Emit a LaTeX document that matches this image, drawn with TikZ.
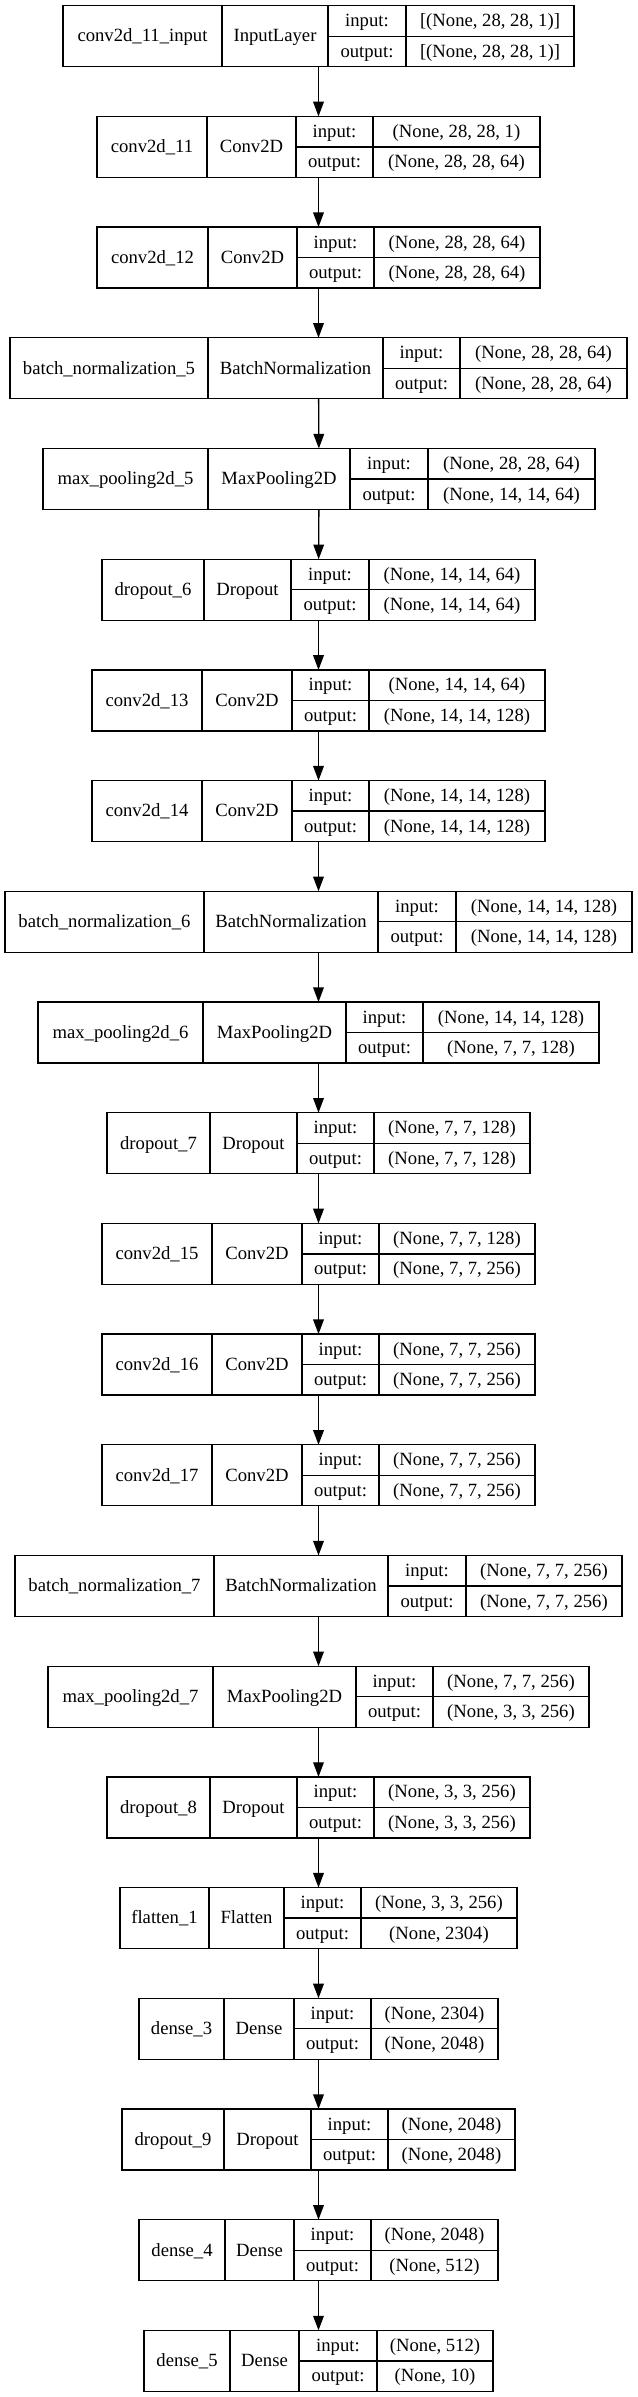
\documentclass[tikz,border=0pt]{standalone}
\usepackage{fontspec}
\setmainfont{Liberation Serif}
\usepackage{tikz}
\usetikzlibrary{arrows.meta}

\tikzset{
  layerbox/.style={draw, line width=1pt, rectangle, inner sep=0pt, outer sep=0pt,
    minimum height=45.75pt},
  lbl/.style={anchor=base, inner sep=0pt, font=\fontsize{14pt}{16pt}\selectfont},
  arr/.style={line width=1pt, -{Triangle[length=11pt, width=8pt]}}
}

\begin{document}
\begin{tikzpicture}[x=0.75pt, y=-0.75pt]
  \useasboundingbox (0,0) rectangle (637,2397);

  % Layers
  \foreach \k/\nm/\cl/\si/\so/\xa/\xb/\xc/\xd/\xe in {
    0/conv2d\_11\_input/InputLayer/{[(None, 28, 28, 1)]}/{[(None, 28, 28, 1)]}/63/222/328/406/574,
    1/conv2d\_11/Conv2D/{(None, 28, 28, 1)}/{(None, 28, 28, 64)}/97/207/296/373/540,
    2/conv2d\_12/Conv2D/{(None, 28, 28, 64)}/{(None, 28, 28, 64)}/97/208/297/374/540,
    3/batch\_normalization\_5/BatchNormalization/{(None, 28, 28, 64)}/{(None, 28, 28, 64)}/10/208/383/460/627,
    4/max\_pooling2d\_5/MaxPooling2D/{(None, 28, 28, 64)}/{(None, 14, 14, 64)}/43/208/350/428/595,
    5/dropout\_6/Dropout/{(None, 14, 14, 64)}/{(None, 14, 14, 64)}/102/204/291/369/535,
    6/conv2d\_13/Conv2D/{(None, 14, 14, 64)}/{(None, 14, 14, 128)}/92/202/292/369/545,
    7/conv2d\_14/Conv2D/{(None, 14, 14, 128)}/{(None, 14, 14, 128)}/92/202/292/369/545,
    8/batch\_normalization\_6/BatchNormalization/{(None, 14, 14, 128)}/{(None, 14, 14, 128)}/5/204/378/456/632,
    9/max\_pooling2d\_6/MaxPooling2D/{(None, 14, 14, 128)}/{(None, 7, 7, 128)}/38/203/346/423/599,
    10/dropout\_7/Dropout/{(None, 7, 7, 128)}/{(None, 7, 7, 128)}/107/210/297/374/530,
    11/conv2d\_15/Conv2D/{(None, 7, 7, 128)}/{(None, 7, 7, 256)}/102/212/302/379/535,
    12/conv2d\_16/Conv2D/{(None, 7, 7, 256)}/{(None, 7, 7, 256)}/102/212/302/379/535,
    13/conv2d\_17/Conv2D/{(None, 7, 7, 256)}/{(None, 7, 7, 256)}/102/212/302/379/535,
    14/batch\_normalization\_7/BatchNormalization/{(None, 7, 7, 256)}/{(None, 7, 7, 256)}/15/214/388/466/622,
    15/max\_pooling2d\_7/MaxPooling2D/{(None, 7, 7, 256)}/{(None, 3, 3, 256)}/48/213/356/433/589,
    16/dropout\_8/Dropout/{(None, 3, 3, 256)}/{(None, 3, 3, 256)}/107/210/297/374/530,
    17/flatten\_1/Flatten/{(None, 3, 3, 256)}/{(None, 2304)}/120/209/284/361/517,
    18/dense\_3/Dense/{(None, 2304)}/{(None, 2048)}/139/224/294/371/498,
    19/dropout\_9/Dropout/{(None, 2048)}/{(None, 2048)}/122/224/311/388/515,
    20/dense\_4/Dense/{(None, 2048)}/{(None, 512)}/139/225/294/371/498,
    21/dense\_5/Dense/{(None, 512)}/{(None, 10)}/144/230/299/377/493} {
    \pgfmathsetmacro\ty{5.7+110.7*\k}
    \node[layerbox, minimum width={(\xe-\xa)*0.75pt}] (l\k) at ({(\xa+\xe)/2}, \ty+30.5) {};
    \draw[line width=1pt] (\xb,\ty) -- (\xb,\ty+61)
      (\xc,\ty) -- (\xc,\ty+61)
      (\xd,\ty) -- (\xd,\ty+61)
      (\xc,\ty+30.5) -- (\xe,\ty+30.5);
    \node[lbl] (n\k) at ({(\xa+\xb)/2}, \ty+36.3) {\nm};
    \node[lbl] (c\k) at ({(\xb+\xc)/2}, \ty+36.3) {\cl};
    \node[lbl] (i\k) at ({(\xc+\xd)/2}, \ty+21) {input:};
    \node[lbl] (o\k) at ({(\xc+\xd)/2}, \ty+51.5) {output:};
    \node[lbl] (is\k) at ({(\xd+\xe)/2}, \ty+21) {\si};
    \node[lbl] (os\k) at ({(\xd+\xe)/2}, \ty+51.5) {\so};
  }

  % Arrows
  \foreach \k [evaluate=\k as \j using int(\k+1)] in {0,...,20}
    \draw[arr] (l\k) -- (l\j);
\end{tikzpicture}
\end{document}
